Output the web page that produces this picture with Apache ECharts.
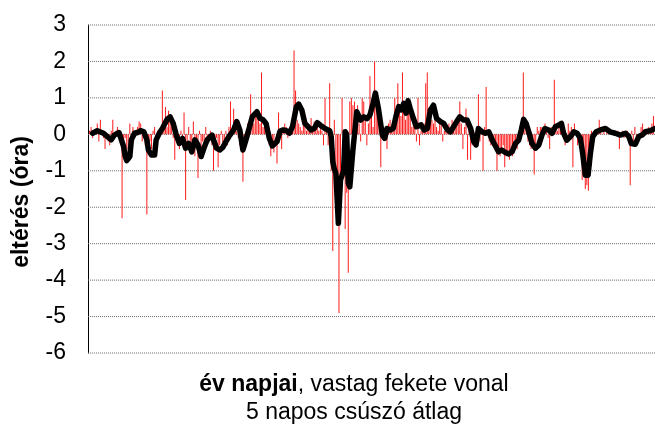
<!DOCTYPE html>
<html>
<head>
<meta charset="utf-8">
<script src="https://cdn.jsdelivr.net/npm/echarts@6/dist/echarts.min.js"></script>
<style>
  html, body { margin: 0; padding: 0; background: #fff; }
  #chart { width: 655px; height: 428px; }
</style>
</head>
<body>
<div id="chart"></div>
<script>
// Daily deviation (hours), day 1 .. 365
const dailyDev = [
  0.1, 0.2, -0.1, 0.1, 0.0, 0.3, -0.2, 0.4, 0.1, -0.1,
  -0.4, 0.0, -0.2, -0.3, 0.1, 0.4, -0.1, 0.1, 0.2, 0.0,
  -0.2, -2.3, -0.3, -0.1, -0.4, -0.5, 0.3, -0.5, 0.2, 0.1,
  0.0, 0.2, 0.35, 0.3, -0.2, 0.1, -0.3, -2.2, -0.1, -0.2,
  -0.4, 0.1, 0.2, -0.1, 0.1, 0.0, 0.2, 1.2, 0.3, 0.75,
  0.2, 0.65, 0.55, 0.2, -0.1, -0.7, 0.1, -0.3, -0.4, 0.1,
  -0.2, 0.6, -1.8, -0.3, 0.2, -0.5, -0.2, 0.35, -0.6, -0.3,
  -1.2, 0.1, -0.5, -0.2, -0.3, 0.2, -0.1, -0.2, 0.1, -0.3,
  -1.0, -0.2, -0.1, -0.9, -0.3, 0.1, -0.4, -0.2, 0.1, -0.3,
  0.2, 0.9, 0.1, 0.7, 0.3, 0.1, -0.1, -0.3, -0.2, -1.3,
  -0.4, 0.1, 0.3, 0.2, 1.1, 0.4, 0.3, 0.55, 0.6, 0.4,
  0.3, 1.7, 0.2, 0.3, 0.1, -0.1, -0.3, -0.6, -0.2, -0.5,
  0.0, -0.8, 0.6, 0.1, -0.4, 0.1, 0.3, 0.2, -0.1, 0.1,
  0.0, 0.3, 2.3, 1.2, 0.4, 0.3, 0.2, 0.1, 0.3, 0.2,
  0.1, 0.3, 0.2, 0.45, 0.1, 0.35, 0.2, 0.3, 0.1, 0.2,
  0.1, -0.3, 1.0, 0.2, -0.3, 1.4, -1.0, -3.2, 0.4, -2.1,
  -1.5, -4.9, -1.8, 1.0, -1.2, -2.6, -1.6, -3.8, 0.9, 1.0,
  0.8, 0.9, 0.1, 0.8, 0.3, -0.2, 1.0, 0.9, 0.4, -0.3,
  0.3, 1.6, 0.5, 0.2, 2.0, 1.2, 0.9, 0.3, -0.9, 0.2,
  0.1, 0.2, -0.4, 0.3, 0.4, 0.2, 0.1, 1.0, 0.5, 1.4,
  0.8, 0.5, 1.7, 0.6, 0.4, 0.9, 0.6, 0.7, 0.2, 0.3,
  0.2, -0.2, 1.0, -0.3, 0.1, 0.2, 0.3, 1.4, 1.7, 0.5,
  0.6, 0.4, 0.3, 0.5, 0.2, 0.1, 0.4, 0.3, -0.2, 0.1,
  0.2, 0.1, 0.3, 0.2, 0.4, 0.2, 0.3, 0.4, 0.3, 0.9,
  0.3, -0.4, 0.2, 0.7, -0.7, 0.2, -0.7, -0.3, 0.1, -0.2,
  0.1, 1.1, -0.2, 0.1, -1.0, 0.2, 1.3, 0.0, -0.2, -0.3,
  -0.3, -0.2, -0.4, -1.0, -0.4, -0.6, -0.5, -0.3, -0.9, -0.6,
  -0.5, -0.7, -0.4, -0.6, -0.3, -0.2, -0.4, -0.1, 0.2, 0.3,
  1.7, 0.2, 0.1, -0.2, -0.3, -0.4, -0.2, -1.1, -0.3, 0.2,
  0.1, 0.2, 0.2, 0.1, 0.3, 0.1, -0.1, -0.4, 0.2, 0.1,
  1.5, 0.2, 0.1, 0.2, 0.3, 0.2, -0.1, -0.3, -0.1, 0.3,
  0.1, 0.2, -0.9, 0.3, 0.1, -0.3, -0.1, -0.3, -1.25, -1.1,
  -1.5, -1.4, -1.55, -0.3, 0.1, 0.0, 0.1, 0.0, 0.1, 0.4,
  0.1, 0.0, 0.1, 0.0, 0.1, 0.0, 0.1, 0.0, 0.1, 0.0,
  0.0, 0.1, -0.4, 0.0, 0.1, -0.1, 0.0, 0.1, 0.0, -1.4,
  0.1, -0.2, 0.2, -0.3, -0.1, 0.0, 0.2, 0.3, 0.1, 0.0,
  0.1, 0.2, 0.1, 0.3, 0.5
];

// 5-day moving average: day positions and values
const avgDays = [
  3, 6, 10, 13, 15, 17, 20, 23, 24, 25, 27, 28, 30, 32, 34, 36, 38, 39, 41, 43,
  44, 46, 48, 51, 53, 55, 57, 59, 61, 63, 65, 67, 69, 71, 73, 75, 77, 80, 81, 83,
  85, 87, 89, 91, 94, 96, 98, 100, 102, 104, 106, 109, 111, 113, 115, 117, 119, 122, 124, 126,
  128, 130, 132, 134.5, 136, 138, 140, 142, 144, 146, 148, 150, 153, 156, 157, 158, 159, 160, 161.6, 163,
  165, 166, 167, 168, 169, 171, 173.5, 176, 178, 180, 182, 184, 185.5, 187.5, 190, 191.5, 193, 195, 197, 199,
  200.6, 202.3, 203.8, 205.3, 206.6, 208, 210, 212, 215, 217, 219, 221, 223, 225, 227.5, 229.6, 232, 234, 236, 238,
  240, 242.5, 244.7, 247, 249, 250.5, 252, 254.4, 256.5, 258.7, 261, 263, 265, 267, 269.4, 271.6, 273.7, 276, 278, 279.7,
  281.2, 282.8, 284.5, 286.6, 288.8, 291, 293, 295, 297.4, 299.5, 301.7, 304, 305.6, 307, 309, 311.4, 313.6, 315.7, 317.8, 319.3,
  321, 322.8, 324.3, 325.8, 328, 330.7, 334, 337, 340.4, 343.6, 347, 349, 350.7, 353.3, 355.5, 357.7, 359.8, 363, 366
];
const avgValues = [
  0.03, 0.10, 0.03, -0.08, -0.15, -0.02, 0.05, -0.34, -0.60, -0.72, -0.61, -0.15, 0.03, 0.05, 0.10, 0.07, -0.15, -0.43, -0.57, -0.57,
  -0.15, 0.03, 0.16, 0.41, 0.48, 0.30, -0.02, -0.25, -0.11, -0.38, -0.25, -0.48, -0.15, -0.29, -0.61, -0.36, -0.15, -0.02, -0.15, -0.38,
  -0.43, -0.36, -0.20, -0.06, 0.12, 0.35, 0.12, -0.43, -0.15, 0.16, 0.48, 0.62, 0.44, 0.40, 0.29, -0.10, -0.32, -0.20, 0.09, 0.12,
  0.10, 0.03, 0.21, 0.76, 0.83, 0.67, 0.30, 0.21, 0.12, 0.16, 0.32, 0.25, 0.16, 0.10, -0.07, -0.75, -0.95, -1.07, -2.44, -1.25,
  -1.00, 0.07, 0.00, -1.34, -1.44, -0.43, 0.62, 0.39, 0.48, 0.43, 0.53, 0.85, 1.13, 0.70, -0.02, -0.11, 0.16, 0.12, 0.16, 0.53,
  0.76, 0.67, 0.85, 0.58, 0.92, 0.71, 0.44, 0.21, 0.26, 0.12, 0.16, 0.67, 0.80, 0.44, 0.35, 0.30, 0.12, 0.07, 0.21, 0.35,
  0.48, 0.39, 0.39, 0.16, -0.20, -0.29, 0.16, 0.07, 0.03, 0.07, -0.16, -0.32, -0.48, -0.43, -0.50, -0.54, -0.48, -0.25, -0.16, 0.12,
  0.41, 0.30, 0.07, -0.25, -0.38, -0.29, -0.02, 0.16, 0.12, 0.03, 0.21, 0.26, 0.30, 0.03, -0.16, -0.06, 0.07, 0.03, -0.11, -0.52,
  -1.12, -1.12, -0.52, -0.06, 0.07, 0.12, 0.16, 0.07, 0.03, -0.02, 0.03, -0.05, -0.25, -0.27, -0.06, -0.02, 0.07, 0.10, 0.16
];

// Value axis ticks
const yMin = -6, yMax = 3, yStep = 1;
const yTicks = [3, 2, 1, 0, -1, -2, -3, -4, -5, -6];

const dayMin = 0, dayMax = 366;
const tickStartDay = -5.2;   // short tick stub left of the value axis

const barData = dailyDev.map((v, i) => [i + 1, v]);
const lineData = avgDays.map((d, i) => [d, avgValues[i]]);

const chart = echarts.init(document.getElementById('chart'), null, { renderer: 'canvas' });
const font = 'Arial, "Liberation Sans", Helvetica, sans-serif';

// Dotted horizontal rule at every tick value
const ruleSeries = yTicks.map(v => ({
  type: 'line',
  data: [[tickStartDay, v], [dayMax, v]],
  symbol: 'none',
  showSymbol: false,
  silent: true,
  clip: false,
  lineStyle: { color: '#6a6a6a', width: 1, type: [1, 1] },
  emphasis: { disabled: true },
  z: 1
}));

chart.setOption({
  animation: false,
  backgroundColor: '#ffffff',
  grid: { left: 88, right: 0, top: 25, bottom: 75, containLabel: false },
  xAxis: {
    type: 'value',
    min: dayMin,
    max: dayMax,
    axisLine: { show: false },
    axisTick: { show: false },
    axisLabel: { show: false },
    splitLine: { show: false }
  },
  yAxis: {
    type: 'value',
    position: 'left',
    min: yMin,
    max: yMax,
    interval: yStep,
    axisLine: { show: true, onZero: false, lineStyle: { color: '#000', width: 1 } },
    axisTick: { show: false },
    axisLabel: { color: '#000', fontSize: 23, fontFamily: font, margin: 22 },
    splitLine: { show: false }
  },
  graphic: [
    {
      type: 'text',
      x: 22, y: 202,
      rotation: Math.PI / 2,
      style: {
        text: 'eltérés (óra)',
        font: 'bold 23px ' + font,
        fill: '#000',
        align: 'center',
        verticalAlign: 'middle'
      }
    },
    {
      type: 'text',
      x: 354, y: 385,
      style: {
        text: '{b|év napjai}, vastag fekete vonal',
        font: '23px ' + font,
        fill: '#000',
        align: 'center',
        verticalAlign: 'middle',
        rich: { b: { font: 'bold 23px ' + font, fill: '#000' } }
      }
    },
    {
      type: 'text',
      x: 354, y: 413,
      style: {
        text: '5 napos csúszó átlag',
        font: '23px ' + font,
        fill: '#000',
        align: 'center',
        verticalAlign: 'middle'
      }
    }
  ],
  series: ruleSeries.concat([
    {
      type: 'bar',
      data: barData,
      barWidth: 1,
      itemStyle: { color: '#ff1a1a' },
      z: 2
    },
    {
      type: 'line',
      data: lineData,
      showSymbol: false,
      symbol: 'none',
      lineStyle: { color: '#000', width: 5.5, cap: 'round', join: 'round' },
      z: 3
    }
  ])
});
</script>
</body>
</html>
